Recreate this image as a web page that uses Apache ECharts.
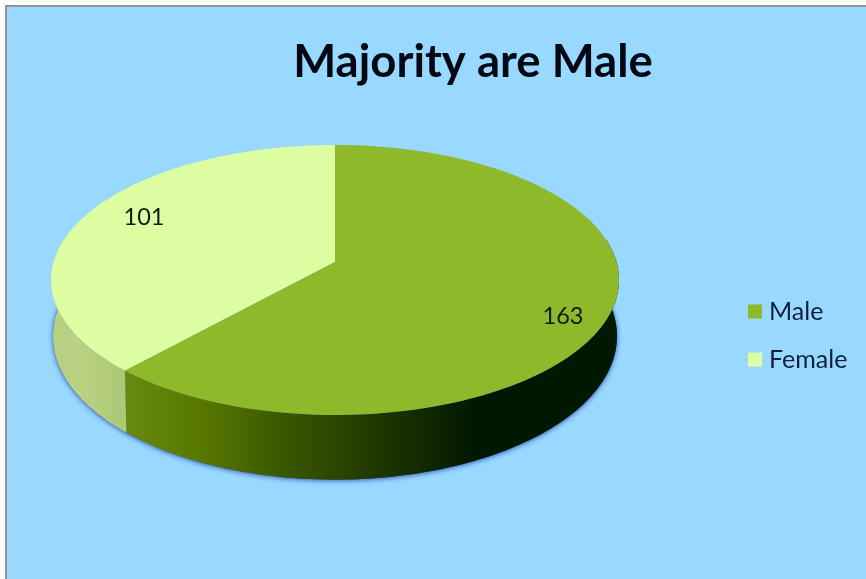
<!DOCTYPE html>
<html>
<head>
<meta charset="utf-8">
<style>html,body{margin:0;padding:0;background:#fff}#c{width:866px;height:579px}</style>
<script src="https://cdn.jsdelivr.net/npm/echarts@6/dist/echarts.min.js"></script>
</head>
<body>
<div id="c"></div>
<script>
const categories = ['Male', 'Female'];
const values = [163, 101];
const titleText = 'Majority are Male';
const sliceColors = ['#8DB92A', '#DEFFA1'];

const total = values.reduce((a, b) => a + b, 0);
// perspective projection of the pie's disc: top face and bottom face
const topFace = {a: 281.5, b: 132.6, k: 0.1333, cx: 335, cy: 262};
const botFace = {a: 279.5, b: 141, k: 0.1333, cx: 335, cy: 317};
const labelPos = [[563, 316], [144, 217]];
const wallRange = [80, 280];

function project(f, deg, r) {
  const t = deg * Math.PI / 180, u = r * Math.sin(t), v = -r * Math.cos(t), w = 1 - f.k * v;
  return [f.cx + f.a * u / w, f.cy + f.b * v / w];
}
function arc(f, d0, d1) {
  const n = Math.max(2, Math.ceil(Math.abs(d1 - d0) / 1.5)), pts = [];
  for (let i = 0; i <= n; i++) pts.push(project(f, d0 + (d1 - d0) * i / n, 1));
  return pts;
}
function hGrad(stops) {
  return new echarts.graphic.LinearGradient(51, 0, 619, 0,
    stops.map(s => ({offset: (s[0] - 51) / 568, color: s[1]})), true);
}
const wallFills = [
  hGrad([[124, '#668A0E'], [200, '#587800'], [270, '#405C00'], [340, '#2B4300'], [420, '#122A00'], [475, '#001800'], [619, '#001800']]),
  hGrad([[51, '#B6CF7E'], [75, '#BAD384'], [100, '#B5CE7C'], [128, '#ACC676'], [619, '#ACC676']])
];

function renderSlice(params, api) {
  const idx = params.seriesIndex;
  const val = api.value(0);
  let before = 0;
  for (let i = 0; i < idx; i++) before += values[i];
  const d0 = before / total * 360, d1 = (before + val) / total * 360;
  const children = [];
  if (idx === 0) {
    children.push({
      type: 'polygon', silent: true,
      shape: {points: arc(botFace, 0, 360)},
      style: {fill: '#2A57B0', shadowColor: 'rgba(35,75,175,0.9)', shadowBlur: 5, shadowOffsetY: 1}
    });
  }
  const w0 = Math.max(d0, wallRange[0]), w1 = Math.min(d1, wallRange[1]);
  if (w1 > w0) {
    children.push({
      type: 'polygon', silent: true,
      shape: {points: arc(topFace, w0, w1).concat(arc(botFace, w1, w0))},
      style: {fill: wallFills[idx]}
    });
  }
  children.push({
    type: 'polygon', silent: true,
    shape: {points: [[topFace.cx, topFace.cy]].concat(arc(topFace, d0, d1))},
    style: {fill: sliceColors[idx]}
  });
  children.push({
    type: 'text', silent: true, z2: 10,
    style: {
      text: String(val), x: labelPos[idx][0], y: labelPos[idx][1],
      align: 'center', verticalAlign: 'middle',
      font: '23.5px Lato', fill: '#111a14'
    }
  });
  return {type: 'group', children};
}

const chart = echarts.init(document.getElementById('c'), null, {renderer: 'canvas'});
chart.setOption({
  animation: false,
  backgroundColor: '#ffffff',
  graphic: [
    {type: 'rect', silent: true, z: -2, shape: {x: 5, y: 5, width: 861, height: 574}, style: {fill: '#949494'}},
    {type: 'rect', silent: true, z: -1, shape: {x: 7, y: 7, width: 859, height: 572}, style: {fill: '#99D8FF'}}
  ],
  title: {
    text: titleText, left: 468, top: 34, textAlign: 'center',
    textStyle: {fontFamily: 'Lato', fontWeight: 'bold', fontSize: 45.5, color: '#000814'}
  },
  legend: {
    orient: 'vertical', left: 748, top: 299, itemWidth: 14, itemHeight: 14, itemGap: 23,
    icon: 'rect', selectedMode: false, padding: 0,
    data: categories,
    textStyle: {fontFamily: 'Lato', fontSize: 25, lineHeight: 14, color: '#10203C', padding: [0, 0, 0, 2]}
  },
  series: categories.map((name, i) => ({
    type: 'custom', name, coordinateSystem: 'none',
    renderItem: renderSlice,
    itemStyle: {color: sliceColors[i]},
    data: [[values[i]]]
  }))
});
</script>
</body>
</html>
